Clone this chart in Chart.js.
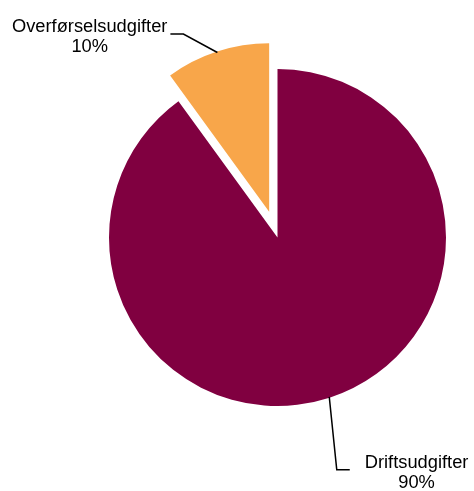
<!DOCTYPE html>
<html>
<head>
<meta charset="utf-8">
<script src="https://cdn.jsdelivr.net/npm/chart.js@4/dist/chart.umd.min.js"></script>
<style>
    html, body { margin: 0; padding: 0; background: #ffffff; }
    #wrap { width: 474px; height: 491px; position: relative; }
</style>
</head>
<body>
<div id="wrap"><canvas id="pieChart"></canvas></div>
<script>
const categories = ['Driftsudgifter', 'Overførselsudgifter'];
const shares = [90, 10];
const percentLabels = ['90%', '10%'];
const sliceColors = ['#800040', '#F8A64A'];
const explode = [0, 27]; // px the slice is pulled out

// leader line shape per slice: elbow offset from anchor, then horizontal run
const leaders = [
    { elbow: [7.5, 73], run: 13, gap: 15 },
    { elbow: [-34, -18.5], run: -13, gap: 3 }
];

function sliceShift(arc, i) {
    const mid = (arc.startAngle + arc.endAngle) / 2;
    return [Math.cos(mid) * explode[i], Math.sin(mid) * explode[i]];
}

// draws each arc itself so an exploded slice is moved without growing
const explodePlugin = {
    id: 'explode',
    beforeDatasetDraw(chart, args) {
        const ctx = chart.ctx;
        args.meta.data.forEach((arc, i) => {
            const [dx, dy] = sliceShift(arc, i);
            ctx.save();
            ctx.translate(dx, dy);
            arc.draw(ctx);
            ctx.restore();
        });
        return false;
    }
};

const labelPlugin = {
    id: 'sliceLabels',
    afterDatasetsDraw(chart) {
        const ctx = chart.ctx;
        const meta = chart.getDatasetMeta(0);
        ctx.save();
        ctx.font = '18.3px "Liberation Sans", Arial, sans-serif';
        ctx.fillStyle = '#000000';
        ctx.strokeStyle = '#000000';
        ctx.lineWidth = 1.5;
        meta.data.forEach((arc, i) => {
            const [dx, dy] = sliceShift(arc, i);
            const mid = (arc.startAngle + arc.endAngle) / 2;
            const ax = arc.x + dx + Math.cos(mid) * (arc.outerRadius - 1);
            const ay = arc.y + dy + Math.sin(mid) * (arc.outerRadius - 1);
            const lead = leaders[i];
            const ex = ax + lead.elbow[0];
            const ey = ay + lead.elbow[1];
            const tx = ex + lead.run;

            ctx.beginPath();
            ctx.moveTo(ax, ay);
            ctx.lineTo(ex, ey);
            ctx.lineTo(tx, ey);
            ctx.stroke();

            const w = Math.max(ctx.measureText(categories[i]).width, ctx.measureText(percentLabels[i]).width);
            const cx = lead.run > 0 ? tx + lead.gap + w / 2 : tx - lead.gap - w / 2;
            ctx.textAlign = 'center';
            ctx.textBaseline = 'alphabetic';
            ctx.fillText(categories[i], cx, ey - 2);
            ctx.fillText(percentLabels[i], cx, ey + 18);
        });
        ctx.restore();
    }
};

new Chart(document.getElementById('pieChart'), {
    type: 'pie',
    data: {
        labels: categories,
        datasets: [{
            data: shares,
            backgroundColor: sliceColors,
            borderWidth: 0
        }]
    },
    options: {
        responsive: true,
        maintainAspectRatio: false,
        animation: false,
        radius: 168.5,
        layout: {
            padding: { left: 90, right: 9, top: 0, bottom: 16 }
        },
        plugins: {
            legend: { display: false },
            tooltip: { enabled: false }
        }
    },
    plugins: [explodePlugin, labelPlugin]
});
</script>
</body>
</html>
